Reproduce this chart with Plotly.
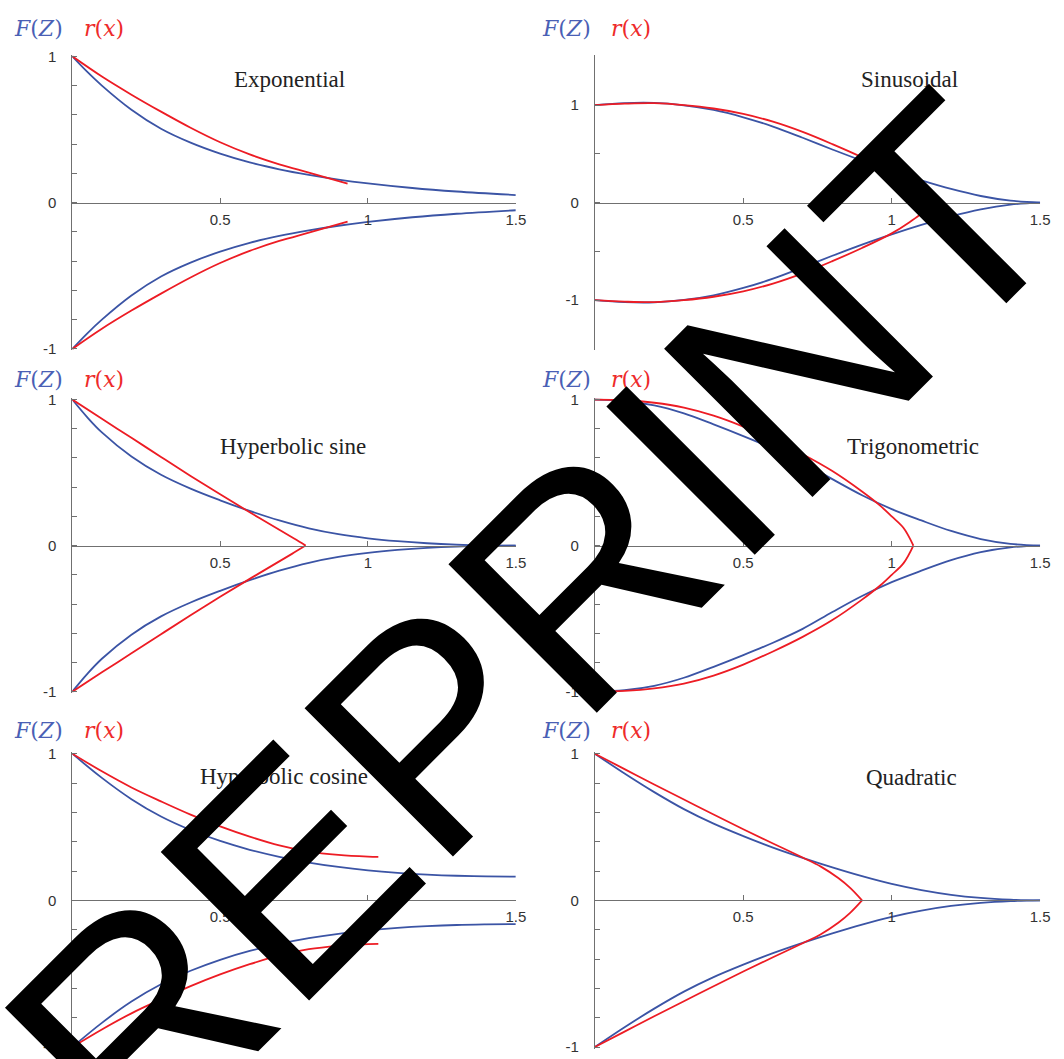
import plotly.graph_objects as go

W, H = 1064, 1059
BLUE = "#3b54a5"
RED = "#ed1c24"
AXIS = "#707070"
TICKFONT = dict(family="Liberation Sans, Arial, sans-serif", size=15, color="#333333")

# ---- Exponential ----
exp_x_blue = [0, 0.05, 0.1, 0.2, 0.3, 0.4, 0.5, 0.6, 0.7, 0.8, 0.9, 1.0, 1.15, 1.3, 1.5]
exp_blue_up = [1, 0.895, 0.8, 0.635, 0.505, 0.41, 0.335, 0.275, 0.228, 0.19, 0.158, 0.132, 0.1, 0.076, 0.052]
exp_blue_lo = [-1, -0.895, -0.8, -0.635, -0.505, -0.41, -0.335, -0.275, -0.228, -0.19, -0.158, -0.132, -0.1, -0.076, -0.052]
exp_x_red = [0, 0.1, 0.2, 0.3, 0.4, 0.5, 0.6, 0.7, 0.8, 0.931]
exp_red_up = [1, 0.862, 0.738, 0.622, 0.512, 0.413, 0.33, 0.262, 0.205, 0.13]
exp_red_lo = [-1, -0.862, -0.738, -0.622, -0.512, -0.413, -0.33, -0.262, -0.205, -0.13]

# ---- Sinusoidal ----
sin_x_blue = [0, 0.1, 0.2, 0.3, 0.4, 0.5, 0.6, 0.7, 0.8, 0.9, 1.0, 1.1, 1.2, 1.3, 1.4, 1.5]
sin_blue_up = [1, 1.02, 1.022, 0.998, 0.95, 0.875, 0.78, 0.665, 0.545, 0.43, 0.325, 0.228, 0.14, 0.068, 0.02, 0]
sin_blue_lo = [-1, -1.02, -1.022, -0.998, -0.95, -0.875, -0.78, -0.665, -0.545, -0.43, -0.325, -0.228, -0.14, -0.068, -0.02, 0]
sin_x_red = [0, 0.1, 0.2, 0.3, 0.4, 0.5, 0.6, 0.7, 0.8, 0.9, 1.0, 1.06, 1.1, 1.13]
sin_red_up = [1, 1.015, 1.02, 1.0, 0.965, 0.91, 0.83, 0.725, 0.6, 0.465, 0.315, 0.2, 0.11, 0]
sin_red_lo = [-1, -1.015, -1.02, -1.0, -0.965, -0.91, -0.83, -0.725, -0.6, -0.465, -0.315, -0.2, -0.11, 0]

# ---- Hyperbolic sine ----
hs_x_blue = [0, 0.05, 0.1, 0.2, 0.3, 0.4, 0.5, 0.6, 0.7, 0.8, 0.9, 1.0, 1.1, 1.2, 1.3, 1.4, 1.5]
hs_blue_up = [1, 0.88, 0.775, 0.61, 0.485, 0.39, 0.31, 0.237, 0.172, 0.118, 0.078, 0.05, 0.03, 0.016, 0.007, 0.002, 0]
hs_blue_lo = [-1, -0.88, -0.775, -0.61, -0.485, -0.39, -0.31, -0.237, -0.172, -0.118, -0.078, -0.05, -0.03, -0.016, -0.007, -0.002, 0]
hs_x_red = [0, 0.1, 0.2, 0.3, 0.4, 0.5, 0.6, 0.7, 0.75, 0.789]
hs_red_up = [1, 0.868, 0.738, 0.607, 0.477, 0.351, 0.228, 0.108, 0.048, 0]
hs_red_lo = [-1, -0.868, -0.738, -0.607, -0.477, -0.351, -0.228, -0.108, -0.048, 0]

# ---- Trigonometric ----
tr_x_blue = [0, 0.1, 0.2, 0.3, 0.4, 0.5, 0.6, 0.7, 0.8, 0.9, 1.0, 1.1, 1.2, 1.3, 1.4, 1.5]
tr_blue_up = [1, 0.99, 0.96, 0.905, 0.83, 0.75, 0.665, 0.57, 0.455, 0.345, 0.25, 0.172, 0.1, 0.045, 0.012, 0]
tr_blue_lo = [-1, -0.99, -0.96, -0.905, -0.83, -0.75, -0.665, -0.57, -0.455, -0.345, -0.25, -0.172, -0.1, -0.045, -0.012, 0]
tr_x_red = [0, 0.1, 0.2, 0.3, 0.4, 0.5, 0.6, 0.7, 0.8, 0.9, 0.96, 1.0, 1.04, 1.073]
tr_red_up = [1, 0.995, 0.978, 0.945, 0.89, 0.815, 0.725, 0.625, 0.51, 0.37, 0.275, 0.2, 0.12, 0]
tr_red_lo = [-1, -0.995, -0.978, -0.945, -0.89, -0.815, -0.725, -0.625, -0.51, -0.37, -0.275, -0.2, -0.12, 0]

# ---- Hyperbolic cosine ----
hc_x_blue = [0, 0.1, 0.2, 0.3, 0.4, 0.5, 0.6, 0.7, 0.8, 0.9, 1.0, 1.1, 1.2, 1.3, 1.4, 1.5]
hc_blue_up = [1, 0.835, 0.69, 0.572, 0.48, 0.405, 0.345, 0.297, 0.258, 0.228, 0.205, 0.188, 0.176, 0.168, 0.164, 0.162]
hc_blue_lo = [-1, -0.835, -0.69, -0.572, -0.48, -0.405, -0.345, -0.297, -0.258, -0.228, -0.205, -0.188, -0.176, -0.168, -0.164, -0.162]
hc_x_red = [0, 0.1, 0.2, 0.3, 0.4, 0.5, 0.6, 0.7, 0.8, 0.9, 1.0, 1.035]
hc_red_up = [1, 0.88, 0.77, 0.675, 0.585, 0.505, 0.435, 0.375, 0.333, 0.31, 0.298, 0.296]
hc_red_lo = [-1, -0.88, -0.77, -0.675, -0.585, -0.505, -0.435, -0.375, -0.333, -0.31, -0.298, -0.296]

# ---- Quadratic ----
qd_x_blue = [0, 0.1, 0.2, 0.3, 0.4, 0.5, 0.6, 0.7, 0.8, 0.9, 1.0, 1.1, 1.2, 1.3, 1.4, 1.5]
qd_blue_up = [1, 0.865, 0.738, 0.622, 0.523, 0.438, 0.36, 0.29, 0.225, 0.165, 0.112, 0.07, 0.038, 0.017, 0.005, 0]
qd_blue_lo = [-1, -0.865, -0.738, -0.622, -0.523, -0.438, -0.36, -0.29, -0.225, -0.165, -0.112, -0.07, -0.038, -0.017, -0.005, 0]
qd_x_red = [0, 0.1, 0.2, 0.3, 0.4, 0.5, 0.6, 0.7, 0.76, 0.82, 0.86, 0.9]
qd_red_up = [1, 0.895, 0.79, 0.688, 0.585, 0.485, 0.388, 0.292, 0.232, 0.152, 0.085, 0]
qd_red_lo = [-1, -0.895, -0.79, -0.688, -0.585, -0.485, -0.388, -0.292, -0.232, -0.152, -0.085, 0]

titles = ["Exponential", "Sinusoidal", "Hyperbolic sine", "Trigonometric",
          "Hyperbolic cosine", "Quadratic"]
x_tick_vals = [0.5, 1, 1.5]
x_tick_text = ["0.5", "1", "1.5"]
y_tick_vals_unit = [-1, -0.8, -0.6, -0.4, -0.2, 0, 0.2, 0.4, 0.6, 0.8, 1]
y_tick_text_unit = ["-1", "", "", "", "", "0", "", "", "", "", "1"]
y_tick_vals_wide = [-1.5, -1, -0.5, 0, 0.5, 1, 1.5]
y_tick_text_wide = ["", "-1", "", "0", "", "1", ""]

panels = [
    (exp_x_blue, exp_blue_up, exp_blue_lo, exp_x_red, exp_red_up, exp_red_lo),
    (sin_x_blue, sin_blue_up, sin_blue_lo, sin_x_red, sin_red_up, sin_red_lo),
    (hs_x_blue, hs_blue_up, hs_blue_lo, hs_x_red, hs_red_up, hs_red_lo),
    (tr_x_blue, tr_blue_up, tr_blue_lo, tr_x_red, tr_red_up, tr_red_lo),
    (hc_x_blue, hc_blue_up, hc_blue_lo, hc_x_red, hc_red_up, hc_red_lo),
    (qd_x_blue, qd_blue_up, qd_blue_lo, qd_x_red, qd_red_up, qd_red_lo),
]

# pixel frame of every panel: x of the origin, x of 1.5, y of the top / bottom labelled ends
col_px = [(73, 520.7), (600.5, 1050)]
row_px = [(50, 346.5), (397.8, 693.8), (756.7, 1054)]
title_pos = [(292, 73), (918, 73), (296, 445), (922, 445), (287, 780), (920, 781)]
label_y = [22, 377, 733]
label_x = [(12, 83), (545, 615)]

fig = go.Figure()
annotations = []
layout = {}

for i, (xb, bu, bl, xr, ru, rl) in enumerate(panels):
    r, c = divmod(i, 2)
    n = "" if i == 0 else str(i + 1)
    xa, ya = "x" + n, "y" + n
    wide = (i == 1)
    ymax = 1.5 if wide else 1.0
    pad = 0.01
    x0p, x1p = col_px[c]
    ytop, ybot = row_px[r]
    unit = (ybot - ytop) / (2 * ymax)
    dom_top = ytop - pad * unit
    dom_bot = ybot + pad * unit
    ymid = (ytop + ybot) / 2

    for xs, ys, col in [(xb, bu, BLUE), (xb, bl, BLUE), (xr, ru, RED), (xr, rl, RED)]:
        fig.add_trace(go.Scatter(
            x=xs, y=ys, mode="lines", xaxis=xa, yaxis=ya,
            line=dict(color=col, width=1.8, shape="spline", smoothing=1.0),
            showlegend=False, hoverinfo="skip"))

    layout["xaxis" + n] = dict(
        domain=[x0p / W, x1p / W], range=[0, 1.5], anchor="free",
        position=1 - ymid / H, showline=True, linecolor=AXIS, linewidth=1,
        ticks="inside", ticklen=5, tickcolor=AXIS, tickvals=x_tick_vals,
        ticktext=x_tick_text, tickfont=TICKFONT, showgrid=False, zeroline=False,
        fixedrange=True, ticklabelstandoff=3)
    layout["yaxis" + n] = dict(
        domain=[1 - dom_bot / H, 1 - dom_top / H],
        range=[-ymax - pad, ymax + pad], anchor=xa, showline=True,
        linecolor=AXIS, linewidth=1, ticks="inside", ticklen=5, tickcolor=AXIS,
        tickvals=y_tick_vals_wide if wide else y_tick_vals_unit,
        ticktext=y_tick_text_wide if wide else y_tick_text_unit,
        tickfont=TICKFONT, showgrid=False, zeroline=False, fixedrange=True,
        ticklabelstandoff=12)

    tx, ty = title_pos[i]
    annotations.append(dict(
        text=titles[i], x=tx / W, y=1 - ty / H, xref="paper", yref="paper",
        xanchor="center", yanchor="middle", showarrow=False,
        font=dict(family="Liberation Serif, serif", size=23, color="#222222")))
    fx, rx = label_x[c]
    ly = label_y[r]
    annotations.append(dict(
        text="<i>F</i>(<i>Z</i>)", x=fx / W, y=1 - ly / H, xref="paper", yref="paper",
        xanchor="left", yanchor="middle", showarrow=False,
        font=dict(family="DejaVu Serif, serif", size=22, color="#4a5fb5")))
    annotations.append(dict(
        text="<i>r</i>(<i>x</i>)", x=rx / W, y=1 - ly / H, xref="paper", yref="paper",
        xanchor="left", yanchor="middle", showarrow=False,
        font=dict(family="DejaVu Serif, serif", size=22, color="#ee2a2a")))

# diagonal stamp across the sheet
annotations.append(dict(
    text="REPRINT", x=540 / W, y=1 - 627 / H, xref="paper", yref="paper",
    xanchor="center", yanchor="middle", showarrow=False, textangle=-45,
    font=dict(family="Liberation Sans, Arial, sans-serif", size=305, color="#000000")))

fig.update_layout(
    width=W, height=H, margin=dict(l=0, r=0, t=0, b=0),
    paper_bgcolor="white", plot_bgcolor="white",
    annotations=annotations, **layout)

fig.write_html("out.html")
